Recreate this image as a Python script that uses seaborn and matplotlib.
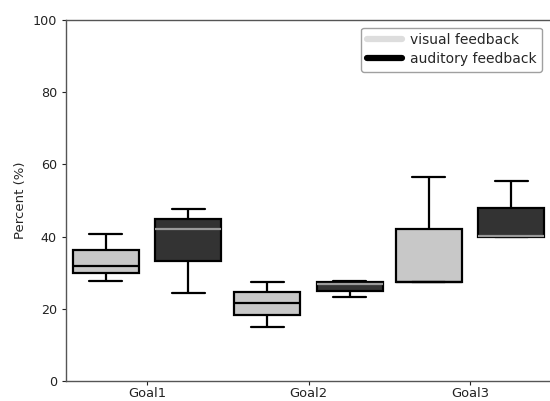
import matplotlib
matplotlib.use("Agg")
import matplotlib.pyplot as plt
from matplotlib.lines import Line2D
import seaborn as sns
import pandas as pd

# Five-number summaries: [low whisker, Q1, median, Q3, high whisker]
goals = ["Goal1", "Goal2", "Goal3"]
conditions = ["visual feedback", "auditory feedback"]
visual_goal1 = [27.8, 29.8, 31.9, 36.3, 40.6]
visual_goal2 = [15.0, 18.3, 21.7, 24.7, 27.4]
visual_goal3 = [27.4, 27.5, 27.5, 42.0, 56.4]
auditory_goal1 = [24.5, 33.3, 42.2, 44.9, 47.6]
auditory_goal2 = [23.3, 25.0, 26.8, 27.3, 27.8]
auditory_goal3 = [39.8, 40.0, 40.1, 47.8, 55.5]
yticks = [0, 20, 40, 60, 80, 100]

series = {
    ("visual feedback", "Goal1"): visual_goal1,
    ("visual feedback", "Goal2"): visual_goal2,
    ("visual feedback", "Goal3"): visual_goal3,
    ("auditory feedback", "Goal1"): auditory_goal1,
    ("auditory feedback", "Goal2"): auditory_goal2,
    ("auditory feedback", "Goal3"): auditory_goal3,
}
rows = []
for (cond, goal), vals in series.items():
    for v in vals:
        rows.append({"goal": goal, "condition": cond, "percent": v})
df = pd.DataFrame(rows)

sns.set_style("ticks")
plt.rcParams["font.family"] = ["DejaVu Sans"]
plt.rcParams["font.size"] = 9.2

fig = plt.figure(figsize=(5.5, 4.01), dpi=100)
ax = fig.add_axes([66 / 550, 20 / 401, 485 / 550, 361 / 401])

palette = {"visual feedback": "#c8c8c8", "auditory feedback": "#333333"}
sns.boxplot(data=df, x="goal", y="percent", hue="condition", order=goals,
            hue_order=conditions, palette=palette, saturation=1,
            width=1.02, gap=0.2, whis=float("inf"), linecolor="black",
            linewidth=1.6, ax=ax, legend=False)

# auditory medians drawn in light grey
for line in ax.containers[1].medians:
    line.set_color("#9a9a9a")

ax.set_xlim(-0.5, 2.5)
ax.set_ylim(0, 100)
ax.set_yticks(yticks)
ax.set_xlabel("")
ax.set_ylabel("Percent (%)", fontsize=9.5)
ax.tick_params(axis="y", labelsize=9.2, colors="#222222", length=3)
ax.tick_params(axis="x", labelsize=9.4, colors="#222222", length=3, pad=1.5)
for name, s in ax.spines.items():
    s.set_visible(name != "right")
    s.set_color("#555555")
    s.set_linewidth(1.0)

handles = [Line2D([0], [0], color="#dddddd", lw=4.5),
           Line2D([0], [0], color="black", lw=4.5)]
leg = ax.legend(handles, conditions, loc="upper right",
                bbox_to_anchor=(0.996, 0.998), fontsize=10,
                frameon=True, fancybox=True, handlelength=2.5,
                borderpad=0.4, labelspacing=0.35, handletextpad=0.6)
leg.get_frame().set_edgecolor("#888888")

fig.savefig("out.png", dpi=100)
